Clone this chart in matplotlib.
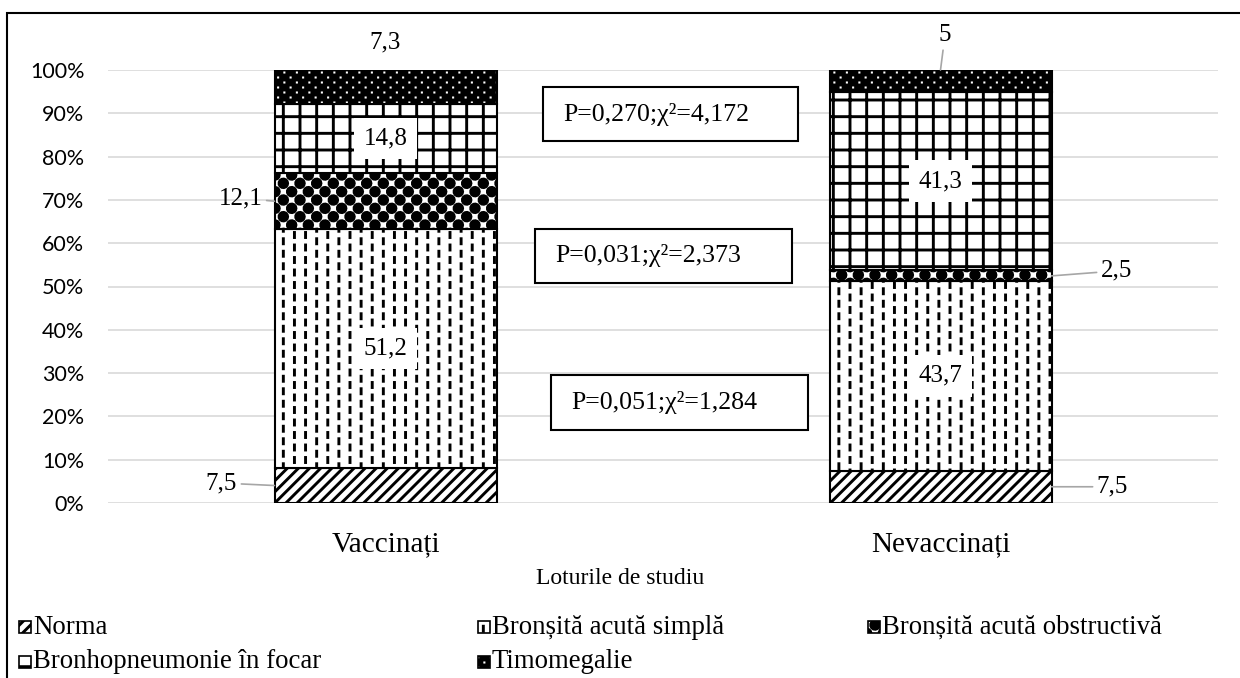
import numpy as np
import matplotlib
matplotlib.use('Agg')
import matplotlib.pyplot as plt
from matplotlib.path import Path
from matplotlib.patches import Rectangle
import matplotlib.hatch as mhatch

# ---------------- data ----------------
groups = ['Vaccinați', 'Nevaccinați']
series = ['Norma', 'Bronșită acută simplă', 'Bronșită acută obstructivă',
          'Bronhopneumonie în focar', 'Timomegalie']
norma = [7.5, 7.5]
simpla = [51.2, 43.7]
obstructiva = [12.1, 2.5]
bronhopneumonie = [14.8, 41.3]
timomegalie = [7.3, 5.0]
stat_labels = ['P=0,270;χ²=4,172', 'P=0,031;χ²=2,373', 'P=0,051;χ²=1,284']
y_ticks = [0, 10, 20, 30, 40, 50, 60, 70, 80, 90, 100]
y_ticklabels = [f'{t}%' for t in y_ticks]
xlabel = 'Loturile de studiu'

# ---------------- custom hatch patterns ----------------
def _line(x0, y0, x1, y1):
    return np.array([[x0, y0], [x1, y1]]), [Path.MOVETO, Path.LINETO]

def _poly(pts):
    pts = list(pts) + [pts[0]]
    return np.array(pts), [Path.MOVETO] + [Path.LINETO] * (len(pts) - 2) + [Path.CLOSEPOLY]

class _Base(mhatch.HatchPatternBase):
    char = ''
    def __init__(self, hatch, density):
        self.segs = self.build() if (hatch and self.char in hatch) else []
        self.num_vertices = sum(len(v) for v, c in self.segs)
    def build(self):
        return []
    def set_vertices_and_codes(self, vertices, codes):
        i = 0
        for v, c in self.segs:
            n = len(v)
            vertices[i:i + n] = v
            codes[i:i + n] = c
            i += n

class DiagHatch(_Base):
    char = '/'
    def build(self):
        n = 9
        return [_line(k / n, 0, k / n + 1, 1) for k in range(-n, n + 1)]

class DashHatch(_Base):
    char = '|'
    def build(self):
        nc, nr, L = 9, 8, 0.05
        segs = []
        for i in range(nc + 1):
            xx = (i + 0.5) / nc
            for j in range(-1, nr + 1):
                y0 = (j + 0.5 * (i % 2)) / nr
                segs.append(_line(xx, y0, xx, y0 + L))
        return segs

class SphereHatch(_Base):
    char = 'o'
    def build(self):
        n, r = 12, 0.043
        t = np.linspace(0, 2 * np.pi, 14)[:-1]
        segs = []
        for i in range(n + 1):
            for j in range(n + 1):
                if (i + j) % 2 == 0:
                    cx, cy = i / n, j / n
                    segs.append(_poly([(cx + r * np.cos(a), cy + r * np.sin(a)) for a in t]))
        return segs

class GridHatch(_Base):
    char = '+'
    def build(self):
        n = 6
        segs = []
        for i in range(n + 1):
            segs.append(_line(i / n, 0, i / n, 1))
            segs.append(_line(0, i / n, 1, i / n))
        return segs

class DotsOnBlack(_Base):
    char = '.'
    def build(self):
        segs = [_poly([(-0.1, -0.1), (1.1, -0.1), (1.1, 1.1), (-0.1, 1.1)])]
        nc, nr, h = 8, 20, 0.025
        for j in range(nr):
            for i in range(nc):
                cx = (i + 0.25) / nc + (0.5 / nc if j % 2 else 0)
                cy = (j + 0.5) / nr
                segs.append(_poly([(cx - h, cy - h), (cx - h, cy + h),
                                   (cx + h, cy + h), (cx + h, cy - h)]))
        return segs

mhatch._hatch_types[:] = [DiagHatch, DashHatch, SphereHatch, GridHatch, DotsOnBlack]

plt.rcParams['hatch.linewidth'] = 2.1
plt.rcParams['hatch.color'] = 'black'

SERIF = ['Liberation Serif', 'DejaVu Serif']
hatches = ['/', '|', 'o', '+', '.']

# ---------------- figure ----------------
W, H = 1240, 678
fig = plt.figure(figsize=(W / 100, H / 100), dpi=100)
fig.patch.set_facecolor('white')
ax = fig.add_axes([108 / W, 1 - 503 / H, 1110 / W, 433 / H])

data = np.array([norma, simpla, obstructiva, bronhopneumonie, timomegalie], dtype=float)
frac = data / data.sum(axis=0) * 100
bottoms = np.vstack([np.zeros(data.shape[1]), np.cumsum(frac, axis=0)[:-1]])
xpos = np.arange(len(groups))
bw = 0.4

for i in range(len(series)):
    ax.bar(xpos, frac[i], bottom=bottoms[i], width=bw, color='white',
           edgecolor='black', linewidth=1.5, hatch=hatches[i], zorder=2)

ax.set_xlim(-0.5, 1.5)
ax.set_ylim(0, 100)
ax.set_yticks(y_ticks)
ax.set_yticklabels(y_ticklabels, fontfamily='Lato', fontsize=15.5, color='black')
ax.set_xticks(xpos)
ax.set_xticklabels(groups, fontfamily=SERIF, fontsize=21, color='black')
ax.tick_params(axis='y', length=0, pad=17)
ax.tick_params(axis='x', length=0, pad=20)
ax.grid(axis='y', color='#d9d9d9', linewidth=1.2)
ax.set_axisbelow(True)
for s in ax.spines.values():
    s.set_visible(False)

def fmt(v):
    return f'{v:g}'.replace('.', ',')

mids = bottoms + frac / 2
PX = 0.72  # pixels -> points
lab_kw = dict(fontfamily=SERIF, fontsize=18, color='black', ha='center', va='center', zorder=5)
lead = dict(arrowstyle='-', color='#a6a6a6', lw=1.2, shrinkA=1, shrinkB=0)

# inside labels with white background
for (si, gi) in [(1, 0), (3, 0), (1, 1), (3, 1)]:
    ax.text(xpos[gi], mids[si, gi], fmt(data[si, gi]),
            bbox=dict(facecolor='white', edgecolor='none', pad=7), **lab_kw)

# outside labels (series, group, anchor x offset in bar widths, anchor y, dx px, dy px, leader)
outside = [
    (0, 0, -0.5, 'mid', -53, 2.5, True),
    (2, 0, -0.5, 'mid', -34, 3, True),
    (4, 0, 0.0, 'mid', 0, 45, False),
    (4, 1, 0.0, 'top', 4.5, 35, True),
    (2, 1, 0.5, 'mid', 65, 5, True),
    (0, 1, 0.5, 'mid', 61, 0, True),
]
for si, gi, fx, ya, dx, dy, has_lead in outside:
    yy = mids[si, gi] if ya == 'mid' else bottoms[si, gi] + frac[si, gi]
    ax.annotate(fmt(data[si, gi]), xy=(xpos[gi] + fx * bw, yy),
                xytext=(dx * PX, dy * PX), textcoords='offset points',
                arrowprops=lead if has_lead else None, **lab_kw)

# statistic boxes (data-coordinate layout)
stat_boxes = [(0.2838, 83.60, 0.4594, 12.47),
              (0.2694, 50.81, 0.4630, 12.47),
              (0.2982, 16.86, 0.4631, 12.70)]
for txt, (bx, by, bwid, bht) in zip(stat_labels, stat_boxes):
    ax.add_patch(Rectangle((bx, by), bwid, bht, facecolor='white',
                           edgecolor='black', linewidth=1.5, zorder=4))
    ax.text(bx + 0.036, by + bht / 2, txt, fontfamily=SERIF, fontsize=18.6,
            color='black', ha='left', va='center', zorder=5)

# axis title
fig.text(620 / W, 1 - 578 / H, xlabel, fontfamily=SERIF, fontsize=17,
         color='black', ha='center', va='center')

# legend (manual, row-major as in reference)
leg_pos = [(19, 627), (478, 627), (868, 627), (19, 662), (478, 662)]
for name, hch, (lx, ly) in zip(series, hatches, leg_pos):
    fig.add_artist(Rectangle((lx / W, 1 - (ly + 6) / H), 12 / W, 12 / H,
                             transform=fig.transFigure, facecolor='white',
                             edgecolor='black', linewidth=1.2, hatch=hch))
    fig.text((lx + 14) / W, 1 - ly / H, name, fontfamily=SERIF, fontsize=19.3,
             color='black', ha='left', va='center')

# outer frame
fig.add_artist(Rectangle((7 / W, -0.1), 1.2, 1.1 - 13 / H, transform=fig.transFigure,
                         facecolor='none', edgecolor='black', linewidth=1.5))

fig.savefig('out.png', dpi=100, facecolor='white')
